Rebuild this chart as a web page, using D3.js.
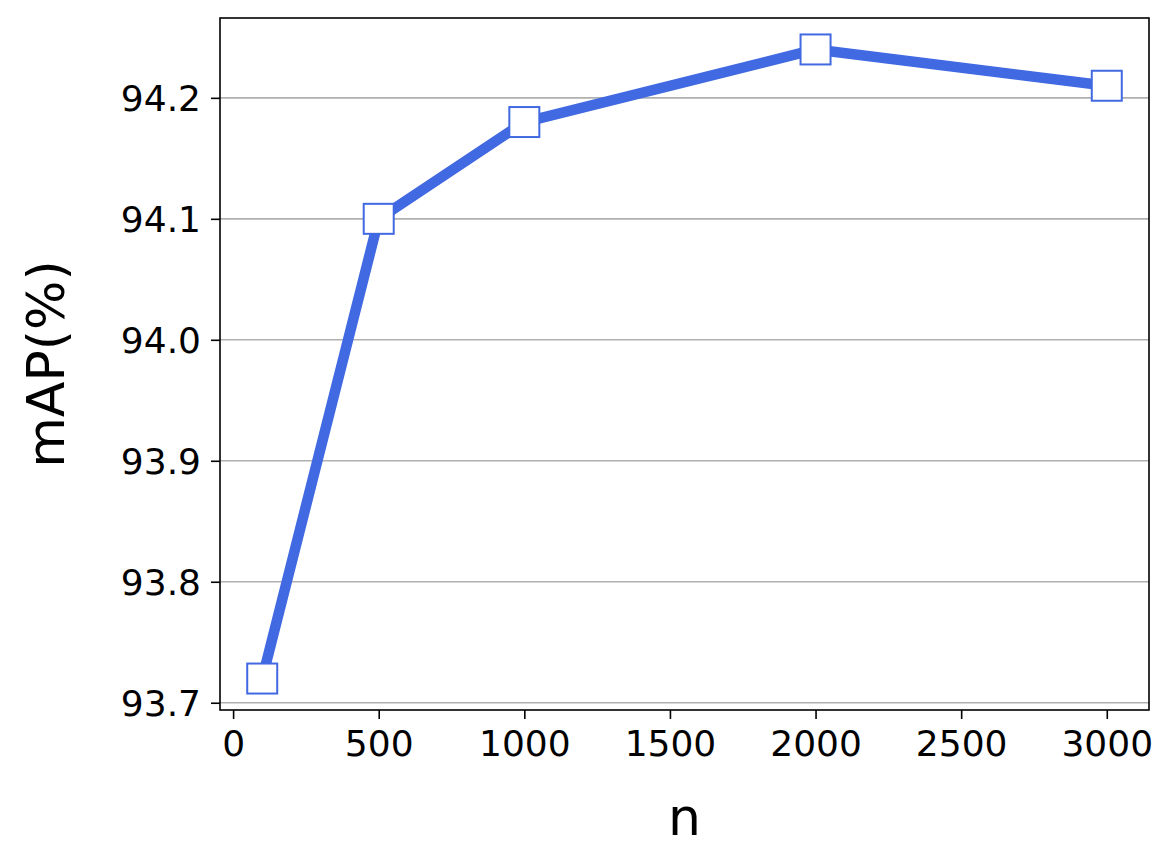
<!DOCTYPE html>
<html>
<head>
<meta charset="utf-8">
<script src="https://cdn.jsdelivr.net/npm/d3@7"></script>
<style>
  html, body { margin: 0; padding: 0; background: #fff; }
  svg { display: block; font-family: "DejaVu Sans", sans-serif; }
</style>
</head>
<body>
<svg id="chart" width="1172" height="864"></svg>
<script>
const nValues = [100, 500, 1000, 2000, 3000];
const mapValues = [93.72, 94.10, 94.18, 94.24, 94.21];
const xTicks = [0, 500, 1000, 1500, 2000, 2500, 3000];
const yTicks = [93.7, 93.8, 93.9, 94.0, 94.1, 94.2];
const xLabel = "n";
const yLabel = "mAP(%)";

const W = 1172, H = 864;
const plot = { left: 220, right: 1149, top: 18, bottom: 710 };
const color = "#4169E1";

const svg = d3.select("#chart");

// matplotlib-style 5% margins
const xr = d3.extent(nValues), yr = d3.extent(mapValues);
const xm = (xr[1] - xr[0]) * 0.05, ym = (yr[1] - yr[0]) * 0.05;
const x = d3.scaleLinear().domain([xr[0] - xm, xr[1] + xm]).range([plot.left, plot.right]);
const y = d3.scaleLinear().domain([yr[0] - ym, yr[1] + ym]).range([plot.bottom, plot.top]);

// grid
svg.append("g").selectAll("line").data(yTicks).join("line")
  .attr("x1", plot.left).attr("x2", plot.right)
  .attr("y1", d => y(d)).attr("y2", d => y(d))
  .attr("stroke", "#b0b0b0").attr("stroke-width", 1.6);

// axes
const xAxis = svg.append("g").attr("transform", `translate(0,${plot.bottom})`)
  .call(d3.axisBottom(x).tickValues(xTicks).tickFormat(d3.format("d")).tickSize(9).tickPadding(11));
const yAxis = svg.append("g").attr("transform", `translate(${plot.left},0)`)
  .call(d3.axisLeft(y).tickValues(yTicks).tickFormat(d3.format(".1f")).tickSize(9).tickPadding(10));
[xAxis, yAxis].forEach(a => {
  a.select(".domain").remove();
  a.selectAll(".tick line").attr("stroke", "#000").attr("stroke-width", 1.6);
  a.selectAll(".tick text").attr("fill", "#000").style("font-size", "36px")
    .style("font-family", "DejaVu Sans, sans-serif");
});
yAxis.selectAll(".tick text").attr("dy", "0.36em");
xAxis.selectAll(".tick text").attr("dy", "0.71em");

// frame
svg.append("rect")
  .attr("x", plot.left).attr("y", plot.top)
  .attr("width", plot.right - plot.left).attr("height", plot.bottom - plot.top)
  .attr("fill", "none").attr("stroke", "#000").attr("stroke-width", 1.6);

// line
const pts = nValues.map((n, i) => [n, mapValues[i]]);
svg.append("path").datum(pts)
  .attr("d", d3.line().x(d => x(d[0])).y(d => y(d[1])))
  .attr("fill", "none").attr("stroke", color).attr("stroke-width", 10.5)
  .attr("stroke-linejoin", "round").attr("stroke-linecap", "butt");

// markers
const ms = 30;
svg.append("g").selectAll("rect").data(pts).join("rect")
  .attr("x", d => x(d[0]) - ms / 2).attr("y", d => y(d[1]) - ms / 2)
  .attr("width", ms).attr("height", ms)
  .attr("fill", "#fff").attr("stroke", color).attr("stroke-width", 2);

// axis labels
svg.append("text")
  .attr("x", (plot.left + plot.right) / 2).attr("y", 835)
  .attr("text-anchor", "middle").style("font-size", "52px").attr("fill", "#000")
  .text(xLabel);
svg.append("text")
  .attr("transform", `translate(64,${(plot.top + plot.bottom) / 2}) rotate(-90)`)
  .attr("text-anchor", "middle").style("font-size", "52px").attr("fill", "#000")
  .text(yLabel);
</script>
</body>
</html>
